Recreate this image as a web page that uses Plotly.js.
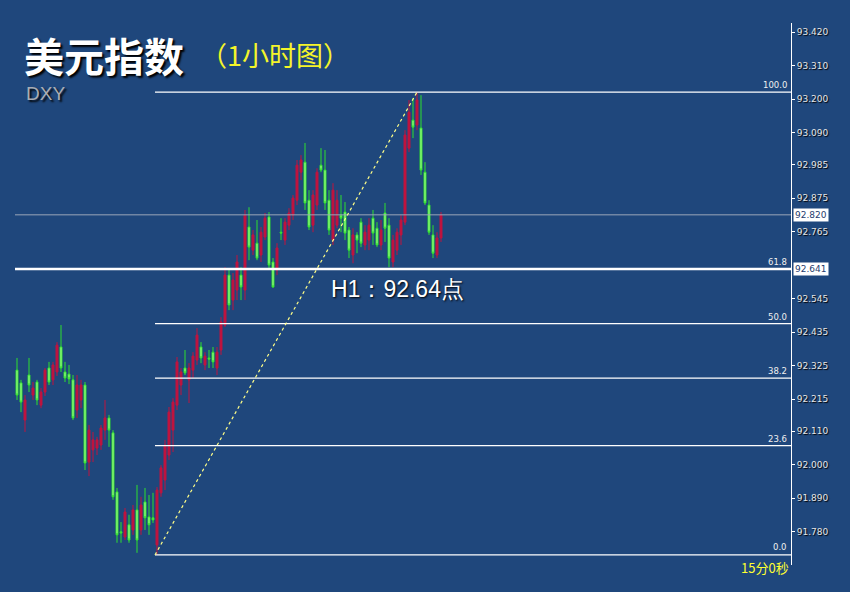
<!DOCTYPE html>
<html>
<head>
<meta charset="utf-8">
<script src="https://cdn.plot.ly/plotly-3.0.1.min.js"></script>
<style>
html,body{margin:0;padding:0;background:#1f477c;}
#chart{width:850px;height:592px;}
</style>
</head>
<body>
<div id="chart"></div>
<script>
// ---- DATA (hourly DXY candles) ----
const openP = [92.310,92.268,92.146,92.294,92.228,92.271,92.195,92.238,92.317,92.278,
92.304,92.386,92.304,92.297,92.278,92.179,92.212,92.261,92.008,92.048,
92.054,92.064,92.113,92.153,92.104,91.910,91.779,91.762,91.802,91.785,
91.851,91.785,91.877,91.828,91.825,91.736,91.907,91.949,92.031,92.113,
92.195,92.261,92.317,92.278,92.310,92.343,92.386,92.327,92.350,92.369,
92.317,92.376,92.458,92.622,92.540,92.573,92.622,92.573,92.780,92.704,
92.727,92.688,92.747,92.813,92.665,92.639,92.763,92.737,92.786,92.819,
92.868,92.960,92.993,92.868,92.786,92.852,92.983,92.967,92.868,92.737,
92.786,92.819,92.829,92.770,92.688,92.754,92.796,92.721,92.737,92.809,
92.776,92.721,92.826,92.786,92.665,92.704,92.754,92.796,93.039,93.131,
93.115,93.105,92.960,92.852,92.754,92.688,92.744];
const highP = [92.350,92.278,92.228,92.350,92.271,92.278,92.251,92.317,92.337,92.337,
92.402,92.458,92.337,92.327,92.294,92.294,92.278,92.271,92.130,92.107,
92.091,92.130,92.212,92.163,92.113,91.923,91.811,91.857,91.835,91.867,
91.933,91.894,91.923,91.900,91.907,91.926,91.998,92.081,92.189,92.218,
92.353,92.317,92.376,92.333,92.369,92.448,92.402,92.369,92.376,92.386,
92.386,92.484,92.648,92.645,92.629,92.688,92.648,92.836,92.845,92.770,
92.803,92.780,92.826,92.829,92.678,92.727,92.809,92.809,92.842,92.885,
93.000,93.016,93.056,92.901,92.901,92.973,93.039,93.033,92.901,92.924,
92.901,92.885,92.862,92.780,92.776,92.763,92.809,92.786,92.809,92.836,
92.796,92.803,92.859,92.809,92.754,92.776,92.819,93.098,93.197,93.203,
93.223,93.213,92.993,92.868,92.786,92.763,92.829];
const lowP = [92.212,92.172,92.107,92.238,92.212,92.195,92.185,92.225,92.261,92.261,
92.291,92.304,92.271,92.264,92.146,92.153,92.185,91.982,91.962,92.008,
92.031,92.048,92.081,92.058,91.884,91.743,91.743,91.752,91.743,91.769,
91.710,91.769,91.785,91.769,91.808,91.703,91.894,91.916,92.015,92.041,
92.179,92.228,92.294,92.202,92.284,92.327,92.333,92.310,92.317,92.317,
92.294,92.360,92.452,92.507,92.507,92.540,92.540,92.540,92.671,92.688,
92.671,92.665,92.737,92.645,92.580,92.622,92.737,92.721,92.770,92.803,
92.852,92.934,92.836,92.770,92.763,92.836,92.960,92.836,92.754,92.721,
92.776,92.763,92.737,92.678,92.661,92.694,92.714,92.704,92.704,92.721,
92.714,92.704,92.731,92.648,92.648,92.688,92.721,92.786,93.026,93.072,
93.098,92.951,92.852,92.754,92.678,92.678,92.731];
const closeP = [92.228,92.205,92.212,92.261,92.251,92.212,92.238,92.310,92.271,92.327,
92.392,92.317,92.284,92.281,92.153,92.261,92.261,92.005,92.113,92.081,
92.081,92.120,92.153,92.113,91.894,91.769,91.775,91.844,91.752,91.851,
91.752,91.867,91.825,91.802,91.818,91.916,91.989,92.064,92.172,92.205,
92.337,92.304,92.301,92.317,92.356,92.425,92.350,92.356,92.346,92.337,
92.369,92.468,92.622,92.524,92.606,92.665,92.583,92.819,92.714,92.754,
92.678,92.763,92.809,92.655,92.583,92.711,92.760,92.796,92.826,92.875,
92.983,93.000,92.859,92.780,92.885,92.960,92.967,92.859,92.770,92.901,
92.868,92.809,92.760,92.704,92.754,92.737,92.727,92.763,92.786,92.760,
92.721,92.770,92.776,92.678,92.737,92.763,92.803,93.082,93.157,93.108,
93.197,92.967,92.859,92.763,92.694,92.744,92.820];

const fibLevels = [0, 23.6, 38.2, 50, 61.8, 100];
const fibLabels = ["0.0", "23.6", "38.2", "50.0", "61.8", "100.0"];
const tickValues = [93.420,93.310,93.200,93.090,92.985,92.875,92.765,92.545,92.435,92.325,92.215,92.110,92.000,91.890,91.780];
const tickLabels = ["93.420","93.310","93.200","93.090","92.985","92.875","92.765","92.545","92.435","92.325","92.215","92.110","92.000","91.890","91.780"];
const currentPrice = 92.820;
const currentLabel = "92.820";
const h1Level = 92.641;
const h1BoxLabel = "92.641";
const h1Text = "H1：92.64点";
const titleMain = "美元指数";
const titleSub = "（1小时图）";
const symbolText = "DXY";
const timerText = "15分0秒";

// ---- derived ----
const xIdx = openP.map((_, i) => i);
let lowIdx = 0, highIdx = 0;
lowP.forEach((v, i) => { if (v < lowP[lowIdx]) lowIdx = i; });
highP.forEach((v, i) => { if (v > highP[highIdx]) highIdx = i; });
const fibL = lowP[lowIdx], fibH = highP[highIdx];
const fibVal = lv => fibL + (fibH - fibL) * lv / 100;

const BG = '#1f477c';
const shapes = [];
const annotations = [];

// current price line
shapes.push({type:'line', xref:'paper', x0:0, x1:1, yref:'y', y0:currentPrice, y1:currentPrice,
  line:{color:'#9aa6b8', width:1}});

// fib lines
fibLevels.forEach((lv, k) => {
  const y = fibVal(lv);
  const isH1 = lv === 61.8;
  shapes.push({type:'line', xref: isH1 ? 'paper' : 'x', x0: isH1 ? 0 : lowIdx - 0.5,
    x1: isH1 ? 1 : 193.5, yref:'y', y0:y, y1:y,
    line:{color:'#ffffff', width: isH1 ? 2.5 : 1.3}});
  annotations.push({xref:'paper', x:0.9975, xanchor:'right', yref:'y', y:y, yanchor:'bottom',
    yshift: lv === 0 ? 1 : 0,
    text:fibLabels[k], showarrow:false,
    font:{family:'DejaVu Sans', size:8.5, color:'#f0f0f0'}});
});

// trend (dotted) line from low to high
shapes.push({type:'line', xref:'x', x0:lowIdx - 0.5, x1:highIdx, yref:'y', y0:fibL, y1:fibH,
  line:{color:'#ffff88', width:1.2, dash:'dot'}});

// price boxes
[[currentPrice, currentLabel],[h1Level, h1BoxLabel]].forEach(([v, t]) => {
  annotations.push({xref:'paper', x:1.003, xanchor:'left', yref:'y', y:v, yanchor:'middle',
    text:t, showarrow:false, bgcolor:'#ffffff', borderpad:1,
    font:{family:'DejaVu Sans', size:9, color:'#1f3d6e'}});
});

// titles & texts (paper coords: plot spans px 15..791, py 23..565)
const px = p => (p - 15) / 776;
const py = p => (565 - p) / 542;
annotations.push({xref:'paper', yref:'paper', x:px(22), y:py(55), xanchor:'left', yanchor:'middle',
  text:titleMain, showarrow:false,
  font:{family:'Noto Sans CJK SC', size:40, weight:'bold', color:'#ffffff', shadow:'2px 2px 2px #000000'}});
annotations.push({xref:'paper', yref:'paper', x:px(198), y:py(54), xanchor:'left', yanchor:'middle',
  text:titleSub, showarrow:false,
  font:{family:'Noto Sans CJK SC', size:27, color:'#f4f42a'}});
annotations.push({xref:'paper', yref:'paper', x:px(24), y:py(93), xanchor:'left', yanchor:'middle',
  text:symbolText, showarrow:false,
  font:{family:'Liberation Sans', size:19, color:'#a9adb4', shadow:'2px 2px 2px #000000'}});
annotations.push({xref:'paper', yref:'paper', x:px(329), y:py(289), xanchor:'left', yanchor:'middle',
  text:h1Text, showarrow:false,
  font:{family:'Liberation Sans', size:23, color:'#ffffff', shadow:'1px 1px 2px #000000'}});
annotations.push({xref:'paper', yref:'paper', x:px(791), y:py(556), xanchor:'right', yanchor:'top',
  text:timerText, showarrow:false,
  font:{family:'Noto Sans CJK SC', size:13, color:'#ffff30'}});

const trace = {
  type:'candlestick', x:xIdx, open:openP, high:highP, low:lowP, close:closeP,
  increasing:{line:{color:'#c0143f', width:1}, fillcolor:'#c0143f'},
  decreasing:{line:{color:'#2fe02f', width:1}, fillcolor:'#b6ff9c'},
  whiskerwidth:0, hoverinfo:'skip', showlegend:false
};

const layout = {
  width:850, height:592,
  margin:{l:15, r:59, t:23, b:27},
  paper_bgcolor:BG, plot_bgcolor:BG,
  showlegend:false,
  xaxis:{range:[-0.5,193.5], showgrid:false, zeroline:false, showticklabels:false, ticks:'',
    showline:false, rangeslider:{visible:false}, fixedrange:true},
  yaxis:{range:[91.670,93.450], side:'right', showgrid:false, zeroline:false,
    tickmode:'array', tickvals:tickValues, ticktext:tickLabels,
    ticks:'outside', ticklen:3, tickcolor:'#ffffff', showline:true, linecolor:'#ffffff', linewidth:1,
    tickfont:{family:'DejaVu Sans', size:9, color:'#e6e6e6', shadow:'1px 1px 1px #000000'}},
  shapes:shapes,
  annotations:annotations
};

Plotly.newPlot('chart', [trace], layout, {displayModeBar:false, staticPlot:true});
</script>
</body>
</html>
